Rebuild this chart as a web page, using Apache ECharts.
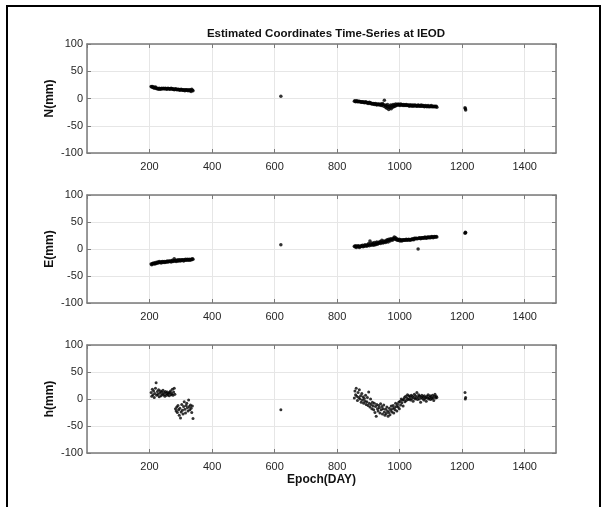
<!DOCTYPE html>
<html>
<head>
<meta charset="utf-8">
<script src="https://cdn.jsdelivr.net/npm/echarts@6/dist/echarts.min.js"></script>
<style>html,body{margin:0;padding:0;background:#fff}#c{width:605px;height:507px}</style>
</head>
<body>
<div id="c"></div>
<script>
const titleText = 'Estimated Coordinates Time-Series at IEOD';
const panelNames = ['N(mm)', 'E(mm)', 'h(mm)'];
const xName = 'Epoch(DAY)';

const days1 = [
  205,207,209,211,213,215,217,219,221,223,
  225,227,229,231,233,235,237,239,241,243,
  245,247,249,251,253,255,257,259,261,263,
  265,267,269,271,273,275,277,279,281,283,
  285,287,289,291,293,295,297,299,301,303,
  305,307,309,311,313,315,317,319,321,323,
  325,327,329,331,333,335,337,339
];
const days2 = [
  855,857,859,861,863,865,867,869,871,873,
  875,877,879,881,883,885,887,889,891,893,
  895,897,899,901,903,905,907,909,911,913,
  915,917,919,921,923,925,927,929,931,933,
  935,937,939,941,943,945,947,949,951,953,
  955,957,959,961,963,965,967,969,971,973,
  975,977,979,981,983,985,987,989,991,993,
  995,997,999,1001,1003,1005,1007,1009,1011,1013,
  1015,1017,1019,1021,1023,1025,1027,1029,1031,1033,
  1035,1037,1039,1041,1043,1045,1047,1049,1051,1053,
  1055,1057,1059,1061,1063,1065,1067,1069,1071,1073,
  1075,1077,1079,1081,1083,1085,1087,1089,1091,1093,
  1095,1097,1099,1101,1103,1105,1107,1109,1111,1113,
  1115,1117,1119
];
const daysX = [620, 1209, 1210, 1211];

const N1 = [
  22,21,22,20,21,19,20,21,19,18,
  19,18,17,19,18,17,18,19,18,18,
  19,18,18,19,18,17,18,19,18,18,
  17,18,19,18,17,18,17,16,17,18,
  17,16,17,16,17,16,15,16,17,16,
  15,16,15,16,14,16,15,16,15,14,
  16,15,14,16,13,17,15,14
];
const N2 = [
  -5,-4,-6,-5,-4,-6,-5,-6,-5,-6,
  -6,-7,-6,-7,-6,-7,-8,-7,-6,-8,
  -7,-8,-9,-8,-7,-9,-8,-9,-10,-9,
  -10,-9,-11,-10,-9,-11,-12,-10,-11,-10,
  -12,-11,-10,-13,-12,-9,-11,-14,-3,-12,
  -16,-13,-18,-11,-15,-20,-14,-17,-12,-19,
  -13,-16,-11,-15,-12,-14,-10,-13,-11,-12,
  -10,-12,-11,-13,-10,-12,-11,-12,-13,-11,
  -12,-13,-12,-11,-13,-12,-13,-12,-14,-12,
  -13,-12,-14,-13,-12,-14,-13,-12,-13,-14,
  -13,-14,-12,-13,-14,-13,-14,-12,-14,-13,
  -14,-13,-15,-14,-13,-14,-15,-14,-13,-15,
  -14,-15,-14,-13,-15,-14,-15,-14,-15,-14,
  -15,-14,-16
];
const NX = [4, -17, -19, -21];

const E1 = [
  -28,-29,-27,-28,-26,-27,-28,-25,-27,-26,
  -24,-26,-25,-23,-25,-24,-26,-24,-23,-25,
  -24,-23,-25,-24,-23,-24,-22,-24,-23,-22,
  -23,-22,-24,-22,-21,-23,-22,-18,-22,-21,
  -23,-21,-22,-20,-22,-21,-20,-22,-21,-20,
  -21,-20,-22,-20,-21,-19,-21,-20,-19,-21,
  -20,-19,-21,-20,-19,-20,-18,-19
];
const E2 = [
  5,4,6,3,5,4,6,5,3,5,
  4,6,5,7,4,6,5,8,6,7,
  5,8,7,10,6,15,9,7,11,8,
  10,7,12,9,8,11,13,9,10,12,
  11,14,10,13,16,12,11,15,13,14,
  12,16,14,17,13,18,16,15,19,17,
  18,16,20,19,22,18,21,17,19,16,
  17,16,18,15,17,16,15,17,16,17,
  16,17,16,18,17,16,17,18,17,16,
  17,18,17,19,18,17,20,19,20,19,
  20,19,0,20,21,20,19,21,20,21,
  21,20,21,22,21,20,21,22,21,22,
  21,22,21,22,23,22,21,22,23,22,
  22,23,22
];
const EX = [8, 29, 31, 30];

const H1 = [
  12,5,18,8,15,3,10,20,30,7,
  14,9,17,4,11,15,6,13,9,16,
  8,12,5,14,10,7,13,9,11,6,
  12,15,8,10,18,7,13,20,9,-18,
  -22,-15,-25,-12,-20,-30,-17,-35,-24,-10,
  -21,-28,-14,-5,-19,-26,-12,-8,-16,-22,
  -2,-14,-20,-11,-17,-25,-13,-36
];
const H2 = [
  2,15,8,20,5,-3,12,3,17,0,
  6,-6,10,-2,4,-8,1,-4,7,-10,
  -5,3,-12,13,-8,-15,0,-10,-18,-6,
  -13,-20,-8,-25,-14,-32,-10,-18,-22,-12,
  -16,-26,-9,-20,-14,-28,-18,-11,-24,-30,
  -19,-27,-15,-22,-32,-25,-17,-29,-21,-13,
  -24,-18,-12,-26,-16,-20,-8,-14,-22,-10,
  -15,-6,-18,-4,-11,0,-7,-2,-13,-1,
  3,-5,5,-3,2,8,-1,6,0,4,
  -2,7,1,5,-4,3,9,0,6,2,
  12,-1,4,8,0,5,-6,3,7,1,
  4,-2,6,1,3,-4,5,2,8,0,
  3,6,-1,4,1,7,2,-3,5,9,
  2,5,3
];
const HX = [-20, 12, 0, 3];

const xTicks = [200, 400, 600, 800, 1000, 1200, 1400];
const yTicks = [-100, -50, 0, 50, 100];

function pairs(xs, ys) { return xs.map((x, i) => [x, ys[i]]); }
const panels = [
  pairs(days1, N1).concat(pairs(days2, N2), pairs(daysX, NX)),
  pairs(days1, E1).concat(pairs(days2, E2), pairs(daysX, EX)),
  pairs(days1, H1).concat(pairs(days2, H2), pairs(daysX, HX))
];

const FONT = "'Liberation Sans', Arial, sans-serif";
const axisCol = '#7a7a7a';
const gridCol = '#e6e6e6';
const tops = [44, 195, 345];
const heights = [109, 108, 108];
const sizes = [3.5, 3.5, 3];

const grids = [], xAxes = [], yAxes = [], series = [];
const graphics = [{
  type: 'rect', silent: true, z: 100,
  shape: { x: 7, y: 6, width: 593, height: 520 },
  style: { fill: 'none', stroke: '#000', lineWidth: 2 }
}];
panels.forEach((data, i) => {
  grids.push({ left: 87, top: tops[i], width: 469, height: heights[i], show: false });
  graphics.push({
    type: 'text', silent: true, x: 50, y: tops[i] + heights[i] / 2, rotation: Math.PI / 2,
    style: {
      text: panelNames[i], fontFamily: FONT, fontSize: 12, fontWeight: 'bold', fill: '#111',
      textAlign: 'center', textVerticalAlign: 'middle'
    }
  });
  const common = {
    gridIndex: i, type: 'value', min: 0, max: 1500, interval: 200,
    axisLine: { show: true, onZero: false, lineStyle: { color: axisCol, width: 1.5 } },
    axisTick: { show: true, inside: true, length: 4, lineStyle: { color: axisCol } }
  };
  xAxes.push(Object.assign({}, common, {
    position: 'bottom',
    name: i === 2 ? xName : '',
    nameLocation: 'middle', nameGap: 21,
    nameTextStyle: { fontFamily: FONT, fontSize: 12, fontWeight: 'bold', color: '#111' },
    splitLine: { show: true, lineStyle: { color: gridCol, width: 1 } },
    axisLabel: {
      show: true, fontFamily: FONT, fontSize: 11, color: '#262626', margin: 8,
      showMinLabel: false, showMaxLabel: false,
      formatter: v => xTicks.indexOf(v) >= 0 ? String(v) : ''
    }
  }));
  xAxes.push(Object.assign({}, common, {
    position: 'top', splitLine: { show: false }, axisLabel: { show: false }
  }));
  const ycommon = {
    gridIndex: i, type: 'value', min: -100, max: 100, interval: 50,
    axisLine: { show: true, onZero: false, lineStyle: { color: axisCol, width: 1.5 } },
    axisTick: { show: true, inside: true, length: 4, lineStyle: { color: axisCol } }
  };
  yAxes.push(Object.assign({}, ycommon, {
    position: 'left',
    splitLine: { show: true, lineStyle: { color: gridCol, width: 1 } },
    axisLabel: {
      show: true, fontFamily: FONT, fontSize: 11, color: '#262626', margin: 4,
      formatter: v => yTicks.indexOf(v) >= 0 ? String(v) : ''
    }
  }));
  yAxes.push(Object.assign({}, ycommon, {
    position: 'right', splitLine: { show: false }, axisLabel: { show: false }
  }));
  series.push({
    type: 'scatter', xAxisIndex: 2 * i, yAxisIndex: 2 * i,
    data: data, symbol: 'circle', symbolSize: sizes[i],
    itemStyle: { color: '#000' }, silent: true
  });
});

const chart = echarts.init(document.getElementById('c'), null, { renderer: 'canvas' });
chart.setOption({
  backgroundColor: '#fff',
  animation: false,
  title: {
    text: titleText, left: 321, top: 23, textAlign: 'center',
    textStyle: { fontFamily: FONT, fontSize: 11.5, fontWeight: 'bold', color: '#111' }
  },
  graphic: graphics,
  grid: grids, xAxis: xAxes, yAxis: yAxes, series: series
});
</script>
</body>
</html>
